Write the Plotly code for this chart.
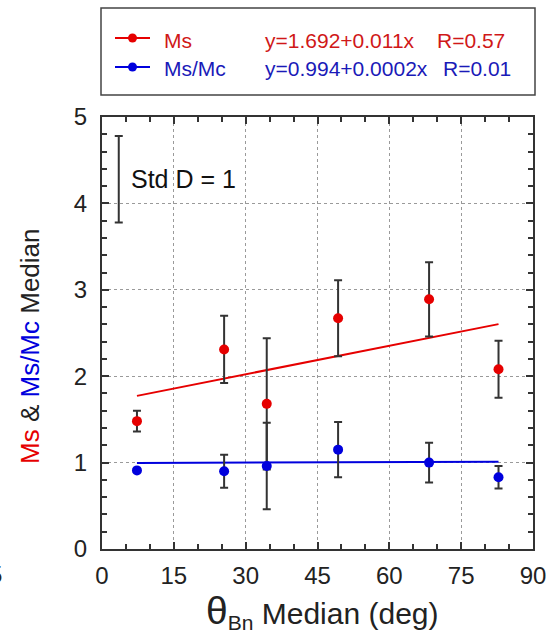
import plotly.graph_objects as go

# ---- data ----
theta = [7.3, 25.5, 34.4, 49.3, 68.3, 82.8]
ms = [1.48, 2.31, 1.68, 2.67, 2.89, 2.08]
ms_err = [0.12, 0.39, 0.76, 0.44, 0.43, 0.33]
msmc = [0.91, 0.90, 0.96, 1.15, 1.00, 0.83]
msmc_err = [0.02, 0.19, 0.50, 0.32, 0.23, 0.13]
fit_ms = (1.692, 0.011)
fit_msmc = (0.994, 0.0002)
fit_x = [min(theta), max(theta)]
std_ref_x = [3.5]
std_ref_y = [4.28]
std_ref_err = [0.5]
x_ticks = [0, 15, 30, 45, 60, 75, 90]
y_ticks = [0, 1, 2, 3, 4, 5]

RED = "#e60000"
BLUE = "#0000dd"
EBC = "#333333"
FONT = "Arial, Liberation Sans, sans-serif"

fig = go.Figure()

# regression lines
fig.add_trace(go.Scatter(x=fit_x, y=[fit_ms[0] + fit_ms[1] * v for v in fit_x],
                         mode="lines", line=dict(color=RED, width=2), showlegend=False))
fig.add_trace(go.Scatter(x=fit_x, y=[fit_msmc[0] + fit_msmc[1] * v for v in fit_x],
                         mode="lines", line=dict(color=BLUE, width=2), showlegend=False))

# data with error bars
fig.add_trace(go.Scatter(x=theta, y=ms, mode="markers",
                         marker=dict(color=RED, size=10),
                         error_y=dict(type="data", array=ms_err, color=EBC, thickness=2, width=4),
                         showlegend=False))
fig.add_trace(go.Scatter(x=theta, y=msmc, mode="markers",
                         marker=dict(color=BLUE, size=10),
                         error_y=dict(type="data", array=msmc_err, color=EBC, thickness=2, width=4),
                         showlegend=False))

# Std D reference bar
fig.add_trace(go.Scatter(x=std_ref_x, y=std_ref_y, mode="markers",
                         marker=dict(size=1, color="rgba(0,0,0,0)"),
                         error_y=dict(type="data", array=std_ref_err, color=EBC, thickness=2, width=4),
                         showlegend=False))

PX0, PW, PY1, PH = 102, 431, 549, 432  # plot area in px (left, width, bottom, height)


def px_x(p):
    return (p - PX0) / PW


def px_y(p):
    return (PY1 - p) / PH


annotations = [
    dict(x=5.6, y=4.28, xref="x", yref="y", text="Std D = 1", showarrow=False,
         xanchor="left", yanchor="middle", font=dict(size=25, color="#111", family=FONT)),
    dict(x=px_x(4), y=px_y(574), xref="paper", yref="paper", text="5", showarrow=False,
         xanchor="right", yanchor="middle", font=dict(size=24, color="#222", family=FONT)),
    # axis titles
    dict(x=px_x(322), y=px_y(611), xref="paper", yref="paper", showarrow=False,
         xanchor="center", yanchor="middle",
         text="<span style='font-size:39px'>θ</span><sub>Bn</sub> Median (deg)",
         font=dict(size=30, color="#222", family=FONT)),
    dict(x=px_x(30), y=px_y(346), xref="paper", yref="paper", showarrow=False,
         xanchor="center", yanchor="middle", textangle=-90,
         text=f"<span style='color:{RED}'>Ms</span> &amp; <span style='color:{BLUE}'>Ms/Mc</span> Median",
         font=dict(size=26, color="#222", family=FONT)),
]

# legend box (drawn manually)
shapes = [
    dict(type="rect", xref="paper", yref="paper", x0=px_x(101), x1=px_x(535), y0=px_y(95), y1=px_y(8),
         line=dict(color="#444", width=1.5), fillcolor="white"),
]
leg_rows = [
    (40, 38, RED, "#d01818", "Ms", f"y={fit_ms[0]:.3f}+{fit_ms[1]:.3f}x", "R=0.57", 435),
    (69, 67, BLUE, "#1a1ab8", "Ms/Mc", f"y={fit_msmc[0]:.3f}+{fit_msmc[1]:.4f}x", "R=0.01", 441),
]
for ty, ly, mc, tc, name, eq, r, rx in leg_rows:
    shapes.append(dict(type="line", xref="paper", yref="paper", x0=px_x(115), x1=px_x(150),
                       y0=px_y(ly), y1=px_y(ly), line=dict(color=mc, width=2)))
    shapes.append(dict(type="circle", xref="paper", yref="paper", x0=px_x(128), x1=px_x(137),
                       y0=px_y(ly + 4.5), y1=px_y(ly - 4.5), line=dict(color=mc, width=0), fillcolor=mc))
    annotations.append(dict(x=px_x(162), y=px_y(ty), xref="paper", yref="paper", text=name, showarrow=False,
                            xanchor="left", yanchor="middle", font=dict(size=21, color=tc, family=FONT)))
    annotations.append(dict(x=px_x(263), y=px_y(ty), xref="paper", yref="paper", text=eq, showarrow=False,
                            xanchor="left", yanchor="middle", font=dict(size=21, color=tc, family=FONT)))
    annotations.append(dict(x=px_x(rx), y=px_y(ty), xref="paper", yref="paper", text=r, showarrow=False,
                            xanchor="left", yanchor="middle", font=dict(size=21, color=tc, family=FONT)))

axis_common = dict(
    showline=True, linecolor="#333", linewidth=2, mirror="allticks",
    ticks="inside", ticklen=7, tickwidth=1.5, tickcolor="#333",
    showgrid=True, gridcolor="#9a9a9a", griddash="dot", gridwidth=1,
    zeroline=False, tickfont=dict(size=24, color="#222", family=FONT),
    automargin=False, ticklabeloverflow="allow",
)

fig.update_layout(
    width=546, height=634,
    margin=dict(l=102, r=13, t=117, b=85),
    plot_bgcolor="white", paper_bgcolor="white",
    font=dict(family=FONT),
    xaxis=dict(range=[0, 90], tickvals=x_ticks,
               minor=dict(dtick=5, tick0=0, ticks="inside", ticklen=5, tickcolor="#333", showgrid=False),
               ticklabelstandoff=4,
               **axis_common),
    yaxis=dict(range=[0, 5], tickvals=y_ticks,
               minor=dict(dtick=0.2, tick0=0, ticks="inside", ticklen=5, tickcolor="#333", showgrid=False),
               ticklabelstandoff=8,
               **axis_common),
    annotations=annotations,
    shapes=shapes,
    showlegend=False,
)

fig.write_html("out.html")
